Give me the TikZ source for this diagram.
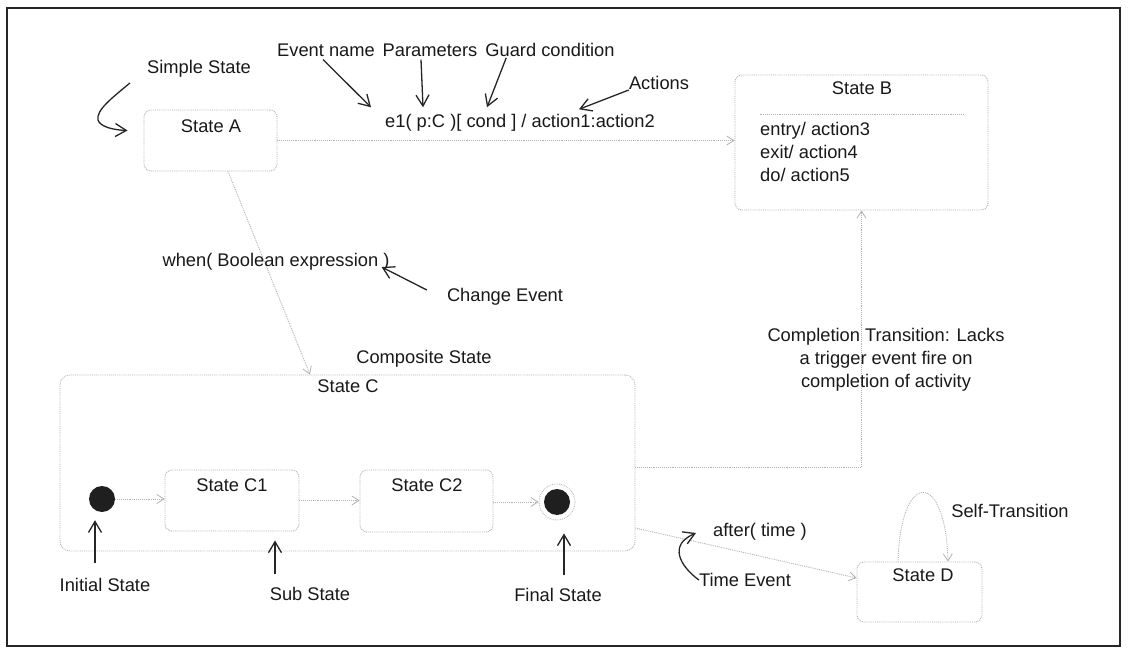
\documentclass[tikz,border=0pt]{standalone}
\usepackage{fontspec}
\setmainfont{Liberation Sans}
\usetikzlibrary{arrows.meta,calc}
\begin{document}
\begin{tikzpicture}[x=1pt,y=-1pt,
  every node/.style={font=\fontsize{18.3}{23}\selectfont, inner sep=0pt, text=black!90},
  statebox/.style={draw=gray!60, densely dotted, line width=0.9pt, rounded corners=7pt},
  link/.style={draw=gray!60, densely dotted, line width=0.9pt},
  trans/.style={link, -{Straight Barb[length=7pt,width=9pt,line width=0.8pt]}},
  note/.style={draw=black!85, line width=1.3pt, -{Straight Barb[length=11pt,width=13pt,line width=1.3pt]}},
  dot/.style={circle, fill=black!88, minimum size=26pt}
]
\useasboundingbox (0,0) rectangle (1128,650);
\fill[white] (0,0) rectangle (1128,650);
\draw[line width=1.5pt, black!85] (7,8) rectangle (1120,646);

% State A
\node[statebox, minimum width=133pt, minimum height=61pt] (A) at (210.5,140.5) {};
\node (Atitle) at (211,126) {State A};
\node (simple) at (199,69) {Simple State};
\draw[note] ($(simple.west)+(-17,14)$) .. controls (112,98) and (96,110) .. (98,120) .. controls (100,127) and (114,130) .. ($(A.west)+(-16,-10)$);

% State B
\node[statebox, minimum width=253pt, minimum height=135pt] (B) at (861.5,142.5) {};
\node (Btitle) at (862,88) {State B};
\draw[link] ($(B.north west)+(25,40)$) -- ($(B.north east)+(-25,40)$);
\node[anchor=north west, align=left] (Bbody) at (760,122) {entry/ action3\\exit/ action4\\do/ action5};

% transition A -> B
\draw[trans] (A.east) -- (A.east -| B.west);
\node (e1) at (520,123) {e1( p:C )[ cond ] / action1:action2};
\node (ev) at (326,50) {Event name};
\node (par) at (430,50) {Parameters};
\node (guard) at (550,50) {Guard condition};
\node (act) at (659,83) {Actions};
\draw[note] ($(ev.south)+(-3,3)$) -- ($(e1.north west)+(-14,-7)$);
\draw[note] ($(par.south)+(-9,3)$) -- ($(e1.north west)+(38,-7)$);
\draw[note] ($(guard.south west)+(21,1)$) -- ($(e1.north west)+(102,-7)$);
\draw[note] ($(act.west)+(0,7)$) -- ($(e1.north west)+(194,-5)$);

% State C
\node[statebox, minimum width=575pt, minimum height=176pt, rounded corners=10pt] (C) at (347.5,463) {};
\node (Ctitle) at (348,386) {State C};
\node (comp) at (424,359) {Composite State};

% change event
\draw[trans] ($(A.south)+(17.5,0)$) -- ($(C.north)+(-37.5,0)$);
\node (when) at (276,262) {when( Boolean expression )};
\node (chg) at (505,297) {Change Event};
\draw[note] ($(chg.west)+(-20,-7)$) -- ($(when.east)+(-8,5)$);

% inside State C
\node[dot] (init) at (102,499) {};
\node[statebox, minimum width=134pt, minimum height=61pt] (C1) at (232,500.5) {};
\node (C1t) at (232,485) {State C1};
\node[statebox, minimum width=133pt, minimum height=62pt] (C2) at (426.5,501) {};
\node (C2t) at (427,485) {State C2};
\node[dot] (fin) at (557,502) {};
\node[circle, draw=gray!60, densely dotted, line width=0.8pt, minimum size=36pt] (finring) at (557,502) {};
\draw[trans] (init) -- (init -| C1.west);
\draw[trans] (C1.east) -- (C1.east -| C2.west);
\draw[trans] (C2.east |- fin) -- (finring.west);

\node (initlbl) at (105,585) {Initial State};
\node (sublbl) at (310,594) {Sub State};
\node (finlbl) at (558,595) {Final State};
\draw[note] ($(initlbl.north)+(-10,-15)$) -- ($(init.south)+(-7,8)$);
\draw[note] ($(sublbl.north)+(-35,-13)$) -- ($(C1.south)+(43,9)$);
\draw[note] ($(finlbl.north)+(6,-13)$) -- ($(finring.south)+(7,13)$);

% State D
\node[statebox, minimum width=125pt, minimum height=60pt] (D) at (919.5,592) {};
\node (Dt) at (923,575) {State D};
\draw[trans] ($(D.north)+(-21.5,0)$) .. controls ($(D.north)+(-19,-92)$) and ($(D.north)+(26,-92)$) .. ($(D.north)+(28.5,0)$);
\node (self) at (1010,511) {Self-Transition};

% time event
\draw[trans] ($(C.east)+(0,65)$) -- ($(D.west)+(0,-14)$);
\node (after) at (760,532) {after( time )};
\node (timelbl) at (745,580) {Time Event};
\draw[note] (timelbl.west) .. controls (680,566) and (668,545) .. (696,533);

% completion transition
\draw[trans] ($(C.east)+(0,4)$) -| (B.south);
\node[align=center] (ctxt) at (886,360) {Completion Transition: Lacks\\a trigger event fire on\\completion of activity};
\end{tikzpicture}
\end{document}
